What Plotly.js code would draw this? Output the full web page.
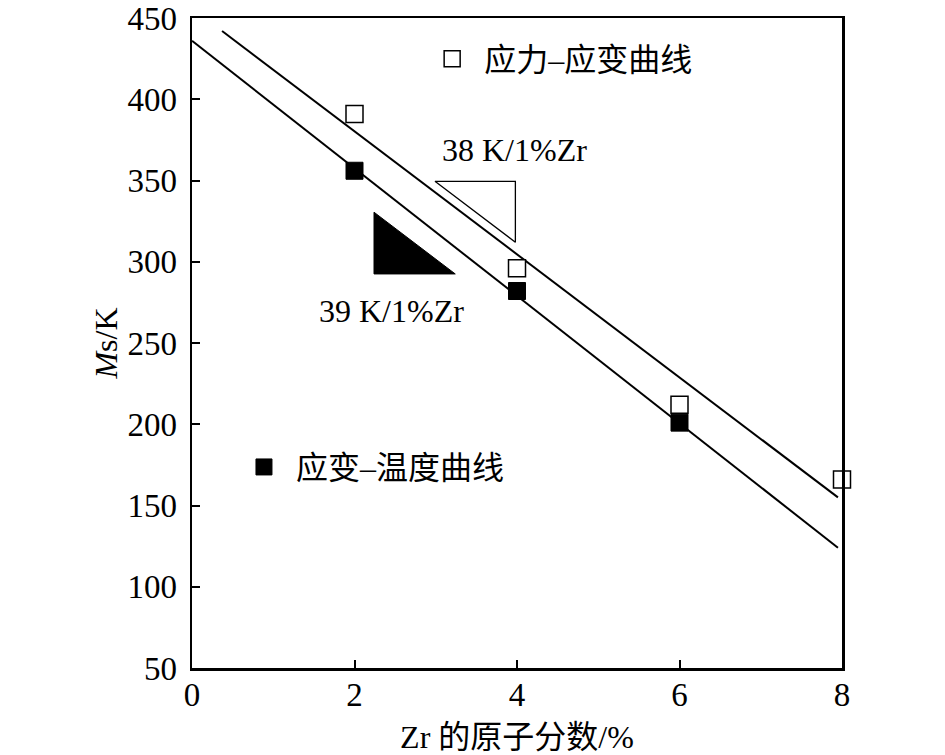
<!DOCTYPE html>
<html>
<head>
<meta charset="utf-8">
<script src="https://cdn.plot.ly/plotly-3.0.1.min.js"></script>
<style>html,body{margin:0;padding:0;background:#fff}#chart{width:945px;height:755px}</style>
</head>
<body>
<div id="chart"></div>
<script>
// measured points (Ms in K vs Zr atomic %)
const zrStress = [2, 4, 6, 8];
const msStress = [391, 296, 212, 166];
const zrStrain = [2, 4, 6];
const msStrain = [356, 282, 201];

// fitted lines as drawn in the figure
const fitStressX = [0.37, 7.95];
const fitStressY = [442, 155];
const fitStrainX = [0, 7.95];
const fitStrainY = [436, 124];

// slope triangles
const slopeOpenX = [2.99, 3.98, 3.98, 2.99];
const slopeOpenY = [349.5, 349.5, 312, 349.5];
const slopeFilledX = [2.24, 2.24, 3.24, 2.24];
const slopeFilledY = [330.5, 292.5, 292.5, 330.5];

const slopeLabels = ['38 K/1%Zr', '39 K/1%Zr'];
const slopeLabelX = [3.97, 2.45];
const slopeLabelY = [369, 269.5];

const xTicks = [0, 2, 4, 6, 8];
const yTicks = [50, 100, 150, 200, 250, 300, 350, 400, 450];

const serif = 'Liberation Serif, "Noto Sans CJK SC", serif';

const data = [
  {
    x: fitStressX, y: fitStressY, mode: 'lines',
    line: {color: '#000', width: 2}, showlegend: false, hoverinfo: 'skip'
  },
  {
    x: fitStrainX, y: fitStrainY, mode: 'lines',
    line: {color: '#000', width: 2}, showlegend: false, hoverinfo: 'skip'
  },
  {
    x: slopeOpenX, y: slopeOpenY, mode: 'lines',
    line: {color: '#000', width: 1.3}, showlegend: false, hoverinfo: 'skip'
  },
  {
    x: slopeFilledX, y: slopeFilledY, mode: 'lines', fill: 'toself',
    fillcolor: '#000', line: {color: '#000', width: 1}, showlegend: false, hoverinfo: 'skip'
  },
  {
    x: zrStress, y: msStress, mode: 'markers', name: '应力–应变曲线',
    legend: 'legend', cliponaxis: false,
    marker: {symbol: 'square', size: 17, color: '#fff', line: {color: '#000', width: 1.5}}
  },
  {
    x: zrStrain, y: msStrain, mode: 'markers', name: '应变–温度曲线',
    legend: 'legend2', cliponaxis: false,
    marker: {symbol: 'square', size: 17, color: '#000', line: {color: '#000', width: 1}}
  }
];

const axisCommon = {
  showgrid: false, zeroline: false,
  showline: true, linecolor: '#000', linewidth: 2.5, mirror: true,
  ticks: 'inside', ticklen: 8, tickwidth: 2, tickcolor: '#000',
  tickfont: {family: serif, size: 33, color: '#000'}
};

const layout = {
  width: 945, height: 755,
  margin: {l: 192, r: 103, t: 18, b: 87},
  paper_bgcolor: '#fff', plot_bgcolor: '#fff',
  font: {family: serif, size: 32, color: '#000'},
  xaxis: Object.assign({}, axisCommon, {
    range: [0, 8], tickvals: xTicks, ticklabelstandoff: -4,
    title: {text: 'Zr 的原子分数/%', font: {family: serif, size: 32}, standoff: 14}
  }),
  yaxis: Object.assign({}, axisCommon, {
    range: [50, 450], tickvals: yTicks, ticklabelstandoff: 6,
    title: {text: '<i>M</i>s/K', font: {family: serif, size: 32}, standoff: 0}
  }),
  legend: {
    x: 0.351, y: 0.937, xanchor: 'left', yanchor: 'middle',
    bgcolor: 'rgba(0,0,0,0)', borderwidth: 0, itemwidth: 54,
    font: {family: serif, size: 32, color: '#000'}
  },
  legend2: {
    x: 0.0615, y: 0.309, xanchor: 'left', yanchor: 'middle',
    bgcolor: 'rgba(0,0,0,0)', borderwidth: 0, itemwidth: 54,
    font: {family: serif, size: 32, color: '#000'}
  },
  annotations: slopeLabels.map((t, i) => ({
    x: slopeLabelX[i], y: slopeLabelY[i], xref: 'x', yref: 'y',
    text: t, showarrow: false,
    font: {family: serif, size: 32, color: '#000'}
  }))
};

Plotly.newPlot('chart', data, layout, {displayModeBar: false, staticPlot: true});
</script>
</body>
</html>
